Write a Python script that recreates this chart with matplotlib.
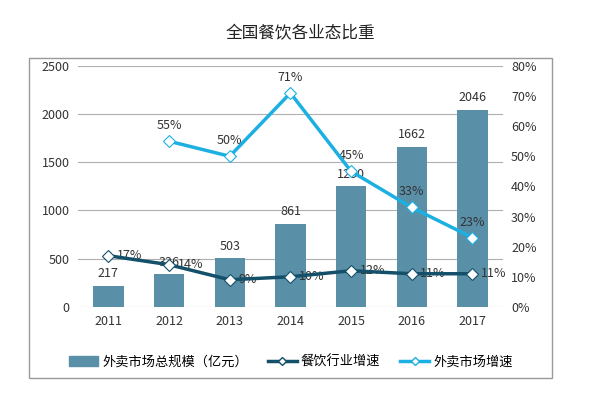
import matplotlib.pyplot as plt
import matplotlib.patches as mpatches
from matplotlib.lines import Line2D
import numpy as np

plt.rcParams['font.family'] = ['Noto Sans CJK SC', 'DejaVu Sans']

years = ['2011', '2012', '2013', '2014', '2015', '2016', '2017']
market_size = [217, 336, 503, 861, 1250, 1662, 2046]
food_growth = [17, 14, 9, 10, 12, 11, 11]
takeout_years = ['2012', '2013', '2014', '2015', '2016', '2017']
takeout_growth = [55, 50, 71, 45, 33, 23]

bar_color = '#5a8fa8'
dark_color = '#14506a'
light_color = '#1cb0e2'

fig = plt.figure(figsize=(6, 3.97), dpi=100)
ax = fig.add_axes([0.13, 0.227, 0.708, 0.607])
ax2 = ax.twinx()

x = np.arange(len(years))
ax.bar(x, market_size, width=0.5, color=bar_color, zorder=2)
for xi, v in zip(x, market_size):
    ax.text(xi, v + 60, str(v), ha='center', va='bottom', fontsize=9, color='#333333')

ax.set_ylim(0, 2500)
ax.set_yticks(range(0, 2501, 500))
ax.set_xlim(-0.5, len(years) - 0.5)
ax.set_xticks(x)
ax.set_xticklabels(years)
ax.grid(axis='y', color='#b0b0b0', lw=0.8, zorder=0)
ax.set_axisbelow(True)
for s in ax.spines.values():
    s.set_visible(False)
for s in ax2.spines.values():
    s.set_visible(False)
ax.tick_params(length=0, labelsize=9, colors='#333333', pad=6)

ax2.set_ylim(0, 80)
ax2.set_yticks(range(0, 81, 10))
ax2.set_yticklabels([f'{v}%' for v in range(0, 81, 10)])
ax2.tick_params(length=0, labelsize=9, colors='#333333', pad=6)

ax2.plot(x, food_growth, color=dark_color, lw=2.5, marker='D', ms=6,
         mfc='white', mec=dark_color, mew=0.8, zorder=4)
for xi, v in zip(x, food_growth):
    ax2.text(xi + 0.14, v, f'{v}%', ha='left', va='center', fontsize=9, color='#333333')

tx = [years.index(y) for y in takeout_years]
ax2.plot(tx, takeout_growth, color=light_color, lw=2.5, marker='D', ms=6,
         mfc='white', mec=light_color, mew=0.8, zorder=4)
for xi, v in zip(tx, takeout_growth):
    ax2.text(xi, v + 3, f'{v}%', ha='center', va='bottom', fontsize=9, color='#333333')

fig.text(0.5, 0.915, '全国餐饮各业态比重', ha='center', va='center', fontsize=12, color='#222222')

frame = mpatches.Rectangle((0.048, 0.048), 0.872, 0.805, transform=fig.transFigure,
                           fill=False, ec='#999999', lw=1)
fig.patches.append(frame)

handles = [
    mpatches.Patch(color=bar_color, label='外卖市场总规模（亿元）'),
    Line2D([], [], color=dark_color, lw=2.5, marker='D', ms=4, mfc='white', mec=dark_color, label='餐饮行业增速'),
    Line2D([], [], color=light_color, lw=2.5, marker='D', ms=4, mfc='white', mec=light_color, label='外卖市场增速'),
]
fig.legend(handles=handles, loc='center', bbox_to_anchor=(0.485, 0.088), ncol=3, frameon=False,
           fontsize=9.5, handlelength=2.2, handletextpad=0.3, columnspacing=1.5)

fig.savefig('out.png', dpi=100)
